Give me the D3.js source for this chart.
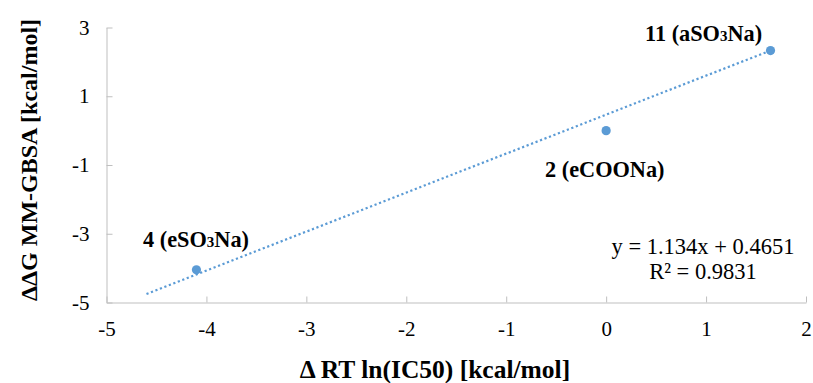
<!DOCTYPE html>
<html>
<head>
<meta charset="utf-8">
<script src="https://cdn.jsdelivr.net/npm/d3@7/dist/d3.min.js"></script>
<style>
  html, body { margin: 0; padding: 0; background: #fff; }
  svg, svg text { font-family: "Liberation Serif", "DejaVu Serif", serif; }
</style>
</head>
<body>
<svg id="chart" width="813" height="383"></svg>
<script>
// Compounds: ΔRT ln(IC50) vs ΔΔG MM-GBSA
const labels = ["4", "2", "11"];
const groups = ["eSO", "eCOONa", "aSO"];
const xValues = [-4.10, 0.00, 1.645];
const yValues = [-4.05, 0.00, 2.33];

// Linear trendline as reported
const slope = 1.134;
const intercept = 0.4651;
const rSquared = 0.9831;
const trendStartX = -4.6;

const xTicks = [-5, -4, -3, -2, -1, 0, 1, 2];
const yTicks = [-5, -3, -1, 1, 3];

const FONT = "Liberation Serif, DejaVu Serif, serif";
const svg = d3.select("#chart").attr("font-family", FONT);
const margin = { left: 106.5, right: 7, top: 27.5, bottom: 80.5 };
const W = 813, H = 383;

const x = d3.scaleLinear().domain([-5, 2]).range([margin.left, W - margin.right]);
const y = d3.scaleLinear().domain([-5, 3]).range([H - margin.bottom, margin.top]);

const axisColor = "#bfbfbf";
const blue = "#5b9bd5";
const minus = d => d < 0 ? "-" + Math.abs(d) : String(d);

// X axis (ticks pointing into the plot)
const xAxis = svg.append("g")
  .attr("transform", `translate(0,${y(-5)})`)
  .call(d3.axisBottom(x).tickValues(xTicks).tickSizeInner(-6).tickSizeOuter(0).tickPadding(19).tickFormat(minus));
xAxis.attr("font-family", FONT);
xAxis.select(".domain").attr("stroke", axisColor).attr("stroke-width", 1);
xAxis.selectAll(".tick line").attr("stroke", axisColor);
xAxis.selectAll(".tick text").attr("font-size", 21).attr("fill", "#000");

// Y axis
const yAxis = svg.append("g")
  .attr("transform", `translate(${x(-5)},0)`)
  .call(d3.axisLeft(y).tickValues(yTicks).tickSizeInner(-6).tickSizeOuter(0).tickPadding(17).tickFormat(minus));
yAxis.attr("font-family", FONT);
yAxis.select(".domain").attr("stroke", axisColor).attr("stroke-width", 1);
yAxis.selectAll(".tick line").attr("stroke", axisColor);
yAxis.selectAll(".tick text").attr("font-size", 21).attr("fill", "#000");

// Trendline (dotted)
const lastX = d3.max(xValues);
svg.append("line")
  .attr("x1", x(trendStartX)).attr("y1", y(slope * trendStartX + intercept))
  .attr("x2", x(lastX)).attr("y2", y(slope * lastX + intercept))
  .attr("stroke", blue).attr("stroke-width", 2.2)
  .attr("stroke-dasharray", "2.2 2.6");

// Points
svg.append("g").selectAll("circle")
  .data(xValues.map((v, i) => ({ x: v, y: yValues[i] })))
  .join("circle")
  .attr("cx", d => x(d.x)).attr("cy", d => y(d.y))
  .attr("r", 4.6).attr("fill", blue);

// Point labels
const ann = svg.append("g").attr("font-family", FONT).attr("font-size", 22.3)
  .attr("font-weight", "bold").attr("fill", "#000");
function sulfonate(num, prefix, px, py) {
  const t = ann.append("text").attr("x", px).attr("y", py);
  t.append("tspan").text(`${num} (${prefix}`);
  t.append("tspan").attr("font-size", 15).text("3");
  t.append("tspan").text("Na)");
}
sulfonate(labels[0], groups[0], 143, 247);
ann.append("text").attr("x", 545).attr("y", 177).text(`${labels[1]} (${groups[1]})`);
sulfonate(labels[2], groups[2], 645, 41);

// Trendline equation
const eq = svg.append("g").attr("font-family", FONT).attr("font-size", 22.5)
  .attr("fill", "#000").attr("text-anchor", "middle");
eq.append("text").attr("x", 703).attr("y", 254).text(`y = ${slope}x + ${intercept}`);
eq.append("text").attr("x", 703).attr("y", 279).text(`R² = ${rSquared}`);

// Axis titles
svg.append("text")
  .attr("x", 435).attr("y", 378)
  .attr("text-anchor", "middle").attr("font-size", 25.5).attr("font-weight", "bold")
  .attr("fill", "#000")
  .text("Δ RT ln(IC50) [kcal/mol]");

svg.append("text")
  .attr("transform", `translate(37,160) rotate(-90)`)
  .attr("text-anchor", "middle").attr("font-size", 24).attr("font-weight", "bold")
  .attr("fill", "#000")
  .text("ΔΔG MM-GBSA [kcal/mol]");
</script>
</body>
</html>
